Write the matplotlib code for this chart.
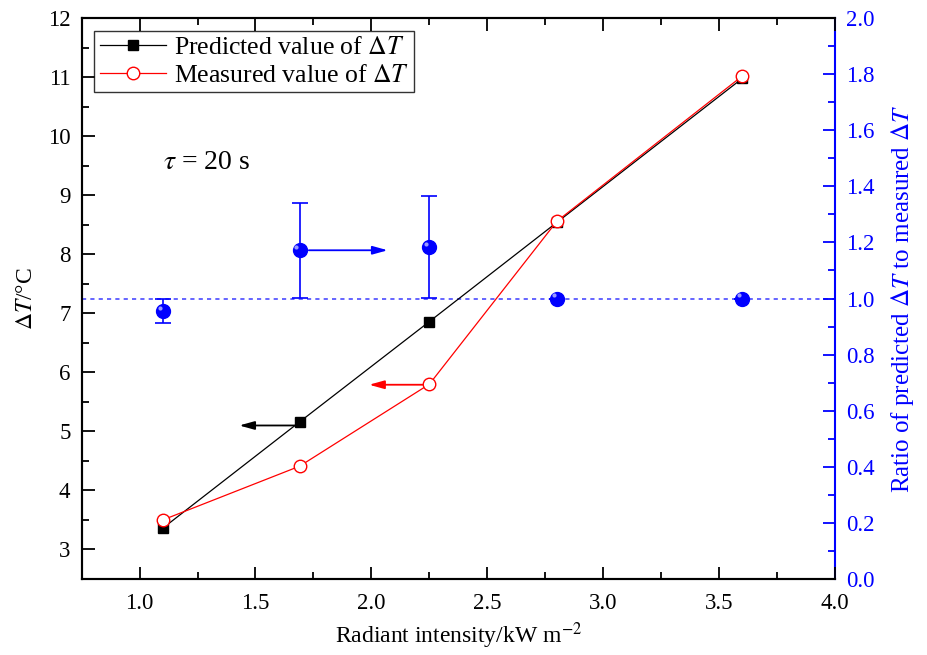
import matplotlib
matplotlib.use("Agg")
import matplotlib.pyplot as plt
import matplotlib.transforms as mtransforms

plt.rcParams['font.family'] = ['Liberation Serif', 'DejaVu Serif']
plt.rcParams['mathtext.fontset'] = 'stix'

# Data
intensity = [1.1, 1.69, 2.25, 2.8, 3.6]
predicted = [3.36, 5.16, 6.86, 8.54, 10.98]
measured = [3.50, 4.41, 5.80, 8.56, 11.02]
ratio = [0.955, 1.172, 1.184, 1.0, 1.0]
ratio_err = [0.042, 0.170, 0.182, 0.0, 0.0]

fig = plt.figure(figsize=(9.27, 6.55), dpi=100)
ax = fig.add_axes([0.088, 0.116, 0.813, 0.8565])
ax2 = ax.twinx()

# main series
ax.plot(intensity, predicted, color='black', lw=0.9, marker='s', ms=7.5,
        mfc='black', mec='black', label=r'Predicted value of $\Delta T$', zorder=3)
ax.plot(intensity, measured, color='red', lw=0.9, marker='o', ms=9,
        mfc='white', mec='red', mew=1.0, label=r'Measured value of $\Delta T$', zorder=4)

# ratio series
ax2.axhline(1.0, color='#4a4aff', lw=1.2, ls=(0, (2.5, 2.5)), zorder=1)
ax2.errorbar(intensity, ratio, yerr=ratio_err, fmt='o', color='blue', ms=10,
             mfc='blue', mec='blue', ecolor='blue', elinewidth=1.2,
             capsize=6, capthick=1.2, zorder=5)
hl = mtransforms.ScaledTranslation(-2.2 / 72, 2.2 / 72, fig.dpi_scale_trans)
ax2.plot(intensity, ratio, 'o', ms=3, color='#9a9aff', mec='none',
         transform=ax2.transData + hl, zorder=6)

# arrows
ax.annotate('', xy=(1.43, 5.1), xytext=(1.67, 5.1),
            arrowprops=dict(arrowstyle='-|>,head_length=0.9,head_width=0.25',
                            color='black', lw=1.3, shrinkA=0, shrinkB=0))
ax.annotate('', xy=(1.99, 5.79), xytext=(2.22, 5.79),
            arrowprops=dict(arrowstyle='-|>,head_length=0.9,head_width=0.25',
                            color='red', lw=1.3, shrinkA=0, shrinkB=0))
ax2.annotate('', xy=(2.07, 1.172), xytext=(1.73, 1.172),
             arrowprops=dict(arrowstyle='-|>,head_length=0.9,head_width=0.25',
                             color='blue', lw=1.3, shrinkA=0, shrinkB=0))

ax.text(1.1, 9.55, r'$\tau$ = 20 s', fontsize=20, ha='left', va='center')

# axes limits and ticks
ax.set_xlim(0.75, 4.0)
ax.set_ylim(2.5, 12)
ax2.set_ylim(0.0, 2.0)
ax.set_xticks([1.0, 1.5, 2.0, 2.5, 3.0, 3.5, 4.0])
ax.set_xticks([1.25, 1.75, 2.25, 2.75, 3.25, 3.75], minor=True)
ax.set_yticks(range(3, 13))
ax.set_yticks([2.5 + i for i in range(10)], minor=True)
ax2.set_yticks([i * 0.2 for i in range(11)])
ax2.set_yticks([0.1 + i * 0.2 for i in range(10)], minor=True)
ax.set_xticklabels(['1.0', '1.5', '2.0', '2.5', '3.0', '3.5', '4.0'])
ax2.set_yticklabels(['%.1f' % (i * 0.2) for i in range(11)])

TS = 16.5
ax.tick_params(axis='x', which='both', direction='in', top=True, labelsize=TS, pad=10)
ax.tick_params(axis='x', which='major', length=9, width=1.3)
ax.tick_params(axis='x', which='minor', length=5, width=1.3)
ax.tick_params(axis='y', which='both', direction='in', labelsize=TS, pad=8)
ax.tick_params(axis='y', which='major', length=9, width=1.3)
ax.tick_params(axis='y', which='minor', length=5, width=1.3)
ax2.tick_params(axis='y', which='both', direction='in', colors='blue', labelsize=TS, pad=8)
ax2.tick_params(axis='y', which='major', length=9, width=1.3)
ax2.tick_params(axis='y', which='minor', length=5, width=1.3)

for s in ['left', 'bottom', 'top']:
    ax.spines[s].set_linewidth(1.5)
    ax2.spines[s].set_linewidth(1.5)
ax2.spines['right'].set_color('blue')
ax2.spines['right'].set_linewidth(1.5)
ax.spines['right'].set_visible(False)

ax.set_xlabel(r'Radiant intensity/kW m$^{-2}$', fontsize=17, labelpad=5)
ax.set_ylabel(r'$\Delta T$/°C', fontsize=17, labelpad=8)
ax2.set_ylabel(r'Ratio of predicted $\Delta T$ to measured $\Delta T$', fontsize=18,
               color='blue', labelpad=10)

leg = ax.legend(loc='upper left', fontsize=18.5, frameon=True, fancybox=False,
                edgecolor='black', borderaxespad=0.5, handlelength=2.6,
                borderpad=0.2, labelspacing=0.2, handletextpad=0.3)
leg.get_frame().set_linewidth(1.0)
leg.set_zorder(10)
ax.set_zorder(ax2.get_zorder() + 1)
ax.patch.set_visible(False)

fig.savefig('out.png', dpi=100)
